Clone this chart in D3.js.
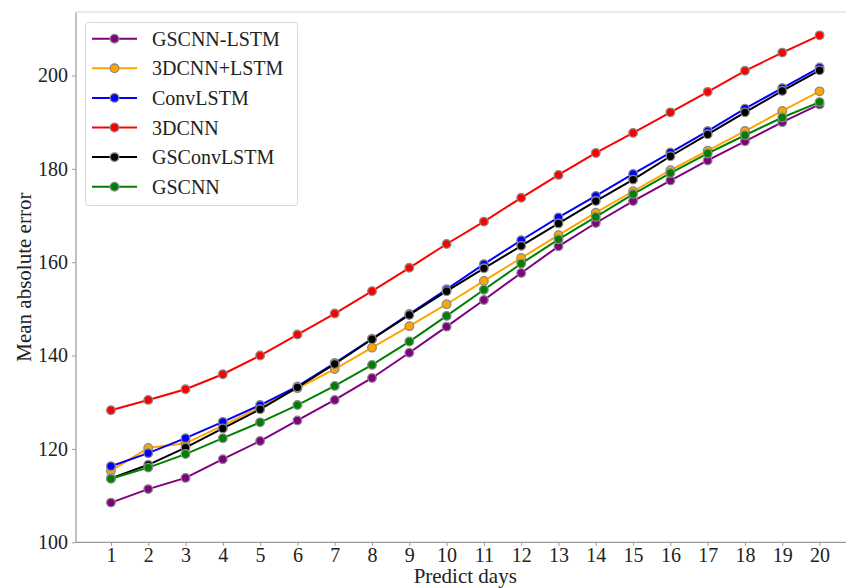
<!DOCTYPE html>
<html>
<head>
<meta charset="utf-8">
<script src="https://cdn.jsdelivr.net/npm/d3@7"></script>
<style>
  body { margin: 0; background: #fff; }
  svg { display: block; font-family: "Liberation Serif", "DejaVu Serif", serif; }
</style>
</head>
<body>
<div id="chart"></div>
<script>
const days = d3.range(1, 21);
const yTicks = [100, 120, 140, 160, 180, 200];

const gscnnLstm = [108.5, 111.4, 113.8, 117.8, 121.7, 126.1, 130.5, 135.2, 140.6, 146.2, 151.9, 157.7, 163.4, 168.4, 173.1, 177.5, 181.8, 185.9, 190.0, 193.8];
const cnn3dLstm = [115.3, 120.2, 121.2, 125.0, 129.0, 133.0, 137.1, 141.7, 146.3, 151.0, 156.0, 160.9, 165.8, 170.6, 175.2, 179.7, 183.9, 188.1, 192.4, 196.6];
const convLstm = [116.3, 119.1, 122.3, 125.8, 129.4, 133.4, 138.4, 143.6, 148.9, 154.2, 159.6, 164.7, 169.6, 174.2, 178.9, 183.5, 188.1, 192.9, 197.3, 201.7];
const cnn3d = [128.3, 130.5, 132.8, 136.0, 140.0, 144.5, 149.0, 153.8, 158.8, 163.9, 168.7, 173.8, 178.7, 183.4, 187.7, 192.1, 196.5, 201.0, 204.9, 208.6];
const gsConvLstm = [113.7, 116.6, 120.3, 124.4, 128.5, 133.2, 138.2, 143.5, 148.7, 153.8, 158.7, 163.5, 168.3, 173.1, 177.7, 182.7, 187.4, 192.1, 196.7, 201.1];
const gscnn = [113.6, 116.0, 118.9, 122.3, 125.7, 129.4, 133.5, 138.0, 143.0, 148.5, 154.1, 159.7, 164.9, 169.7, 174.6, 179.1, 183.3, 187.2, 191.0, 194.3];

const series = [
  { name: "GSCNN-LSTM", color: "purple", values: gscnnLstm },
  { name: "3DCNN+LSTM", color: "orange", values: cnn3dLstm },
  { name: "ConvLSTM", color: "blue", values: convLstm },
  { name: "3DCNN", color: "red", values: cnn3d },
  { name: "GSConvLSTM", color: "black", values: gsConvLstm },
  { name: "GSCNN", color: "green", values: gscnn }
];

const width = 846, height = 588;
const plotLeft = 75.5, plotRight = 855, plotTop = 12, plotBottom = 542.3;

const x = d3.scaleLinear().domain([0.05, 20.95]).range([plotLeft, plotRight]);
const y = d3.scaleLinear().domain([100, 213.6]).range([plotBottom, plotTop]);

const svg = d3.select("#chart").append("svg")
  .attr("width", width)
  .attr("height", height)
  .attr("viewBox", [0, 0, width, height]);

// frame
svg.append("line").attr("x1", plotLeft).attr("x2", width).attr("y1", plotTop).attr("y2", plotTop)
  .attr("stroke", "#d8d8d8").attr("stroke-width", 1.2);

const xAxis = svg.append("g")
  .attr("transform", `translate(0,${plotBottom})`)
  .call(d3.axisBottom(x).tickValues(days).tickFormat(d3.format("d")).tickSize(3.5).tickPadding(2).tickSizeOuter(0));
xAxis.select(".domain").attr("stroke", "#999").attr("stroke-width", 1.2).attr("d", `M${plotLeft},0H${width}`);
xAxis.selectAll(".tick line").attr("stroke", "#999");
xAxis.selectAll("text").attr("font-size", 20).attr("fill", "#222").attr("font-family", "Liberation Serif");

const yAxis = svg.append("g")
  .attr("transform", `translate(${plotLeft},0)`)
  .call(d3.axisLeft(y).tickValues(yTicks).tickSize(3.5).tickPadding(4).tickSizeOuter(0));
yAxis.select(".domain").attr("stroke", "#999").attr("stroke-width", 1.2);
yAxis.selectAll(".tick line").attr("stroke", "#999");
yAxis.selectAll("text").attr("font-size", 20).attr("fill", "#222").attr("font-family", "Liberation Serif");

// axis titles
svg.append("text")
  .attr("x", (plotLeft + plotRight) / 2).attr("y", 583)
  .attr("text-anchor", "middle").attr("font-size", 21).attr("fill", "#222")
  .text("Predict days");
svg.append("text")
  .attr("transform", `translate(31,${(plotTop + plotBottom) / 2}) rotate(-90)`)
  .attr("text-anchor", "middle").attr("font-size", 21).attr("fill", "#222")
  .text("Mean absolute error");

const line = d3.line()
  .x((d, i) => x(days[i]))
  .y(d => y(d));

series.forEach(s => {
  const g = svg.append("g");
  g.append("path")
    .attr("d", line(s.values))
    .attr("fill", "none")
    .attr("stroke", s.color)
    .attr("stroke-width", 2);
  g.selectAll("circle")
    .data(s.values)
    .join("circle")
    .attr("cx", (d, i) => x(days[i]))
    .attr("cy", d => y(d))
    .attr("r", 4.3)
    .attr("fill", s.color)
    .attr("stroke", "#8a8a8a")
    .attr("stroke-width", 1.3);
});

// legend
const legend = svg.append("g");
legend.append("rect")
  .attr("x", 85.5).attr("y", 22.5).attr("width", 212).attr("height", 183)
  .attr("rx", 3).attr("fill", "white").attr("fill-opacity", 0.85)
  .attr("stroke", "#d8d8d8");
series.forEach((s, i) => {
  const ly = 38.7 + i * 29.6;
  legend.append("line")
    .attr("x1", 92).attr("x2", 137).attr("y1", ly).attr("y2", ly)
    .attr("stroke", s.color).attr("stroke-width", 2);
  legend.append("circle")
    .attr("cx", 114.5).attr("cy", ly).attr("r", 4.3)
    .attr("fill", s.color).attr("stroke", "#8a8a8a").attr("stroke-width", 1.3);
  legend.append("text")
    .attr("x", 152).attr("y", ly).attr("dy", "0.35em")
    .attr("font-size", 20).attr("fill", "#222")
    .text(s.name);
});
</script>
</body>
</html>
